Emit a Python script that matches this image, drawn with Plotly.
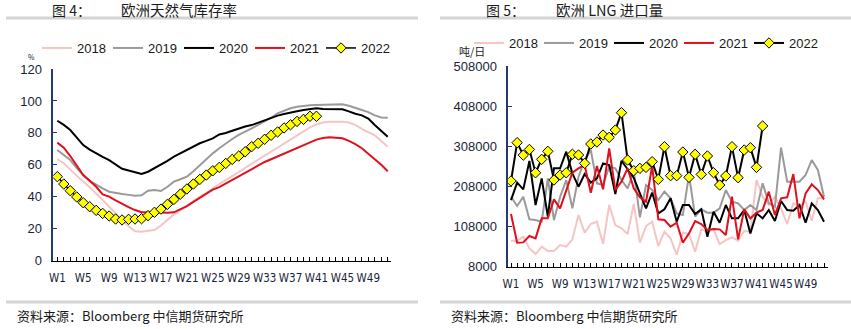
import plotly.graph_objects as go

# ---------------- data ----------------
weeks = list(range(1, 53))
week_labels = [f"W{w}" for w in weeks]
label_weeks = weeks[::4]  # W1, W5, ..., W49

years = ["2018", "2019", "2020", "2021", "2022"]

storage_2018 = [63.5, 61, 57, 53, 49.5, 46, 42.2, 38, 33.8, 29.5,
                25.5, 21.5, 18.5, 18.2, 18.8, 19.2, 22, 25.5, 29, 31.5,
                34.5, 37.5, 40, 42.5, 45.5, 48, 50.5, 53, 55.5, 58,
                60.5, 63, 65.5, 68, 70.5, 73.5, 76, 78.5, 81, 83.5,
                85.3, 86.5, 87, 87, 87, 86.5, 85, 82.5, 80.5, 78.5,
                75, 71.4]
storage_2019 = [69.3, 66, 63, 58, 53.6, 50, 47.4, 45.3, 43.2, 42.3,
                41.7, 41.2, 40.7, 40.9, 43.8, 44.2, 43.6, 46.3, 49.5, 51,
                52.6, 56, 59.9, 63.5, 67.2, 70.4, 73.5, 76.2, 78.7, 81,
                82.9, 85, 87, 89.5, 92.2, 94, 95.4, 96.3, 97, 97.3,
                97.5, 97.7, 97.9, 97.9, 97.9, 97, 95.5, 94.3, 93, 91,
                89.7, 89.5]
storage_2020 = [87.6, 85, 81.8, 77, 72.4, 69.5, 67, 65, 63, 60,
                57.5, 56.5, 55.3, 54.3, 55.7, 57.8, 59.9, 62.5, 65.1, 67.2,
                69.3, 71.5, 73.5, 75, 76.6, 79, 79.9, 81.3, 82.9, 84,
                84.9, 86.5, 88.1, 89.5, 90.8, 91.8, 92.9, 93.6, 94.3, 95,
                95.4, 95, 94.8, 94.8, 94.8, 93.5, 92, 91, 89, 85,
                81, 77.6]
storage_2021 = [73.9, 70.7, 65.5, 59.5, 53.6, 50, 46.3, 41.5, 40.1, 37.8,
                35.5, 33.5, 31.7, 30.3, 30.3, 30.7, 30.2, 30, 30.3, 32.3,
                34.2, 36.8, 39.5, 42, 44.5, 46, 48.3, 50.5, 52.5, 55,
                57.5, 59.7, 61.8, 63.5, 65.2, 67, 69, 70.7, 72.4, 74,
                75.8, 76.8, 77.2, 77, 76.6, 75, 73, 70.4, 67, 63.5,
                60, 56]
storage_2022 = [52.6, 48, 43.8, 39.9, 36.3, 33.8, 31.5, 29.6, 28, 26.1,
                25.5, 25.9, 26.1, 26.3, 28.2, 30.3, 32.3, 35.3, 38.4, 41.7,
                44.9, 48, 50.9, 53.6, 56.3, 58.4, 60.9, 63.4, 65.5, 68.2,
                71.4, 73.5, 76, 78.5, 80.6, 83.1, 85.1, 87.2, 88.5, 90.4,
                90.4]

lng_2018 = [72800, 72800, 82800, 53700, 39600, 57800, 47000, 47000, 62000, 57800,
            76100, 136700, 92700, 114300, 120100, 64500, 161700, 111800, 103500, 89400,
            164200, 67800, 109300, 120100, 59500, 95200, 78600, 37100, 92700, 89400,
            45400, 101000, 95200, 101000, 64500, 74400, 81100, 72800, 96900, 95200,
            224000, 182400, 161700, 182400, 153400, 114300, 165800, 159200, 170000, 122600,
            178300, 178300]
lng_2019 = [182400, 159200, 182400, 126000, 124300, 120100, 228100, 124300, 182400, 224000,
            153400, 232300, 273800, 298700, 215700, 211500, 257200, 253000, 224000, 203200,
            244700, 130900, 211500, 199000, 174100, 194900, 178300, 140900, 136700, 236400,
            132600, 150900, 142600, 142600, 153400, 199000, 170000, 165800, 149200, 161700,
            149200, 215700, 165800, 157500, 304500, 219800, 219800, 219800, 236400, 273800,
            248900, 182400]
lng_2020 = [174000, 217300, 200700, 271300, 161700, 228000, 132600, 253000, 253000, 294600,
            240600, 207300, 238900, 217300, 228000, 265500, 261300, 189000, 272000, 250500,
            229800, 190700, 153400, 192400, 140900, 150900, 178300, 120100, 161700, 161700,
            139200, 150900, 82700, 145000, 117600, 161700, 128400, 128400, 149200, 91000,
            140900, 128400, 149200, 121800, 171600, 149200, 147500, 161700, 117600, 165800,
            149200, 120100]
lng_2021 = [139200, 67800, 68600, 84400, 78600, 128400, 128400, 175800, 153400, 199000,
            242200, 253000, 261300, 192400, 258800, 200700, 302900, 199000, 219800, 253000,
            203200, 180800, 170000, 258800, 126000, 124300, 107700, 117600, 67800, 91000,
            121800, 114300, 99400, 101900, 101000, 87000, 182400, 76100, 150900, 128400,
            142600, 149200, 194900, 136700, 178300, 180800, 238900, 128400, 190700, 213200,
            199000, 175800]
lng_2022 = [221500, 317000, 286000, 300000, 242000, 275500, 295400, 224000, 236400, 242000,
            288000, 286300, 265500, 313700, 318600, 336000, 330300, 348500, 391700, 273800,
            247200, 253000, 255500, 269600, 225600, 307000, 234800, 234800, 293700, 230600,
            288000, 238000, 283800, 242200, 211500, 234000, 307000, 229800, 298700, 304500,
            255500, 358500]

storage_ticks = [0, 20, 40, 60, 80, 100, 120]
lng_ticks = [8000, 108000, 208000, 308000, 408000, 508000]

# ---------------- styles ----------------
colors = {"2018": "#f5c4c4", "2019": "#9a9a9a", "2020": "#000000",
          "2021": "#e0101c", "2022": "#000000"}
W, H = 851, 329

def px_x(p):
    return p / W

def px_y(p):
    return 1 - p / H

fig = go.Figure()

storage = dict(zip(years, [storage_2018, storage_2019, storage_2020, storage_2021, storage_2022]))
lng = dict(zip(years, [lng_2018, lng_2019, lng_2020, lng_2021, lng_2022]))

for yr in years:
    vals = storage[yr]
    is22 = yr == "2022"
    fig.add_trace(go.Scatter(
        x=weeks[:len(vals)], y=vals, name=yr, xaxis="x", yaxis="y",
        mode="lines+markers" if is22 else "lines",
        line=dict(color=colors[yr], width=2 if not is22 else 1.5),
        marker=dict(symbol="diamond", size=8, color="#ffff00",
                    line=dict(color="#000000", width=1)) if is22 else None,
        legend="legend",
    ))

for yr in years:
    vals = lng[yr]
    is22 = yr == "2022"
    fig.add_trace(go.Scatter(
        x=weeks[:len(vals)], y=vals, name=yr, xaxis="x2", yaxis="y2",
        mode="lines+markers" if is22 else "lines",
        line=dict(color=colors[yr], width=2),
        marker=dict(symbol="diamond", size=8, color="#ffff00",
                    line=dict(color="#000000", width=1)) if is22 else None,
        legend="legend2",
    ))

tick_font = dict(family="DejaVu Sans Condensed, Roboto, sans-serif",
                 size=11.5, color="#1a1f3a")
ytick_font = dict(family="Liberation Sans, Arial, sans-serif", size=13, color="#1a1f3a")
axis_blue = "#243b6b"

ticktext = [lab if w in label_weeks else "" for w, lab in zip(weeks, week_labels)]

common_x = dict(showgrid=False, zeroline=False, showline=True, linecolor="#000000",
                linewidth=1, ticks="inside", ticklen=4, tickcolor="#000000",
                tickvals=weeks, ticktext=ticktext, tickfont=tick_font, tickangle=0,
                automargin=False, ticklabelstandoff=6)
common_y = dict(showgrid=False, zeroline=False, showline=True, linecolor=axis_blue,
                linewidth=1.5, ticks="inside", ticklen=4, tickcolor=axis_blue,
                tickfont=ytick_font, ticklabelstandoff=7, automargin=False)

fig.update_layout(
    template="none",
    width=W, height=H, margin=dict(l=0, r=0, t=0, b=0, pad=0, autoexpand=False),
    paper_bgcolor="white", plot_bgcolor="white",
    xaxis=dict(domain=[px_x(53.3), px_x(390.7)], range=[0.38, 52.46], anchor="y", **common_x),
    yaxis=dict(domain=[px_y(260.7), px_y(69)], range=[0, 120], anchor="x",
               tickvals=storage_ticks, **common_y),
    xaxis2=dict(domain=[px_x(508.3), px_x(827.7)], range=[0.56, 52.6], anchor="y2", **common_x),
    yaxis2=dict(domain=[px_y(266.7), px_y(66)], range=[8000, 508000], anchor="x2",
                tickvals=lng_ticks, tickformat="d", **common_y),
    legend=dict(orientation="h", x=px_x(37), y=px_y(48), xanchor="left", yanchor="middle",
                entrywidth=26, entrywidthmode="pixels", bgcolor="rgba(0,0,0,0)",
                borderwidth=0,
                font=dict(family="Liberation Sans, Arial, sans-serif", size=13, color="#1a1a1a"),
                itemwidth=30, traceorder="normal"),
    legend2=dict(orientation="h", x=px_x(469), y=px_y(43), xanchor="left", yanchor="middle",
                 entrywidth=25, entrywidthmode="pixels", bgcolor="rgba(0,0,0,0)",
                 borderwidth=0,
                 font=dict(family="Liberation Sans, Arial, sans-serif", size=13, color="#1a1a1a"),
                 itemwidth=30, traceorder="normal"),
    showlegend=True,
)

cjk = "Noto Sans CJK SC, sans-serif"
ann = []
def add_text(x, y, text, size, color="#1a1a1a", xanchor="left", family=cjk):
    ann.append(dict(x=px_x(x), y=px_y(y), xref="paper", yref="paper", text=text,
                    showarrow=False, xanchor=xanchor, yanchor="middle",
                    font=dict(family=family, size=size, color=color)))

add_text(50, 9.5, "图 4：", 14)
add_text(119, 9.5, "欧洲天然气库存率", 14.5)
add_text(484, 9.5, "图 5：", 14)
add_text(554, 9.5, "欧洲 LNG 进口量", 14.5)
add_text(26, 57, "%", 7)
add_text(457, 51.5, "吨/日", 11)
add_text(15, 315, "资料来源：Bloomberg 中信期货研究所", 13)
add_text(449, 315, "资料来源：Bloomberg 中信期货研究所", 13)
fig.update_layout(annotations=ann)

shapes = []
for x0, x1 in [(6, 418), (440, 851)]:
    for yy in (18, 302):
        shapes.append(dict(type="line", xref="paper", yref="paper",
                           x0=px_x(x0), x1=px_x(x1), y0=px_y(yy), y1=px_y(yy),
                           line=dict(color="#d4d4d4", width=3)))
fig.update_layout(shapes=shapes)

fig.write_html("out.html")
